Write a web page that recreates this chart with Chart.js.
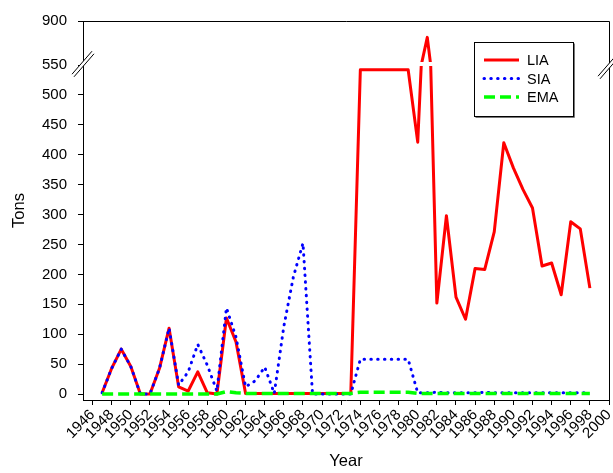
<!DOCTYPE html>
<html>
<head>
<meta charset="utf-8">
<script src="https://cdn.jsdelivr.net/npm/chart.js@4.4.1/dist/chart.umd.min.js"></script>
<style>
  html, body { margin: 0; padding: 0; background: #fff; }
  #wrap { width: 613px; height: 473px; }
</style>
</head>
<body>
<div id="wrap"><canvas id="chart"></canvas></div>
<script>
const years = [
  1947, 1948, 1949, 1950, 1951, 1952, 1953, 1954, 1955, 1956, 1957, 1958, 1959,
  1960, 1961, 1962, 1963, 1964, 1965, 1966, 1967, 1968, 1969,
  1970, 1971, 1972, 1973, 1974, 1975, 1976, 1977, 1978, 1979,
  1980, 1981, 1982, 1983, 1984, 1985, 1986, 1987, 1988, 1989,
  1990, 1991, 1992, 1993, 1994, 1995, 1996, 1997, 1998
];

const lia = [
  2, 43, 75, 46, 0, 0, 43, 110, 12, 5, 37, 2, 0,
  127, 87, 1, 1, 1, 1, 1, 1, 1, 1,
  1, 1, 1, 1, 542, 542, 542, 542, 542, 542,
  421, 770, 152, 298, 162, 125, 210, 208, 271, 420,
  378, 342, 311, 214, 219, 166, 288, 276, 177
];

const sia = [
  2, 43, 75, 46, 0, 0, 43, 110, 15, 37, 83, 48, 5,
  144, 95, 12, 22, 45, 1, 113, 196, 252, 0,
  0, 0, 0, 0, 58, 58, 58, 58, 58, 58,
  2, 2, 3, 2, 2, 2, 2, 3, 2, 2,
  2, 2, 2, 2, 2, 2, 2, 2, 2
];

const ema = [
  0, 0, 0, 0, 0, 0, 0, 0, 0, 0, 0, 0, 0,
  4, 2, 1, 1, 1, 1, 1, 1, 1, 1,
  1, 1, 1, 1, 3, 3, 3, 3, 3, 3,
  1, 1, 1, 1, 1, 1, 1, 1, 1, 1,
  1, 1, 1, 1, 1, 1, 1, 1, 1
];

const yearTicks = [
  1946, 1948, 1950, 1952, 1954, 1956, 1958, 1960, 1962, 1964, 1966, 1968, 1970,
  1972, 1974, 1976, 1978, 1980, 1982, 1984, 1986, 1988, 1990, 1992, 1994, 1996, 1998, 2000
];
const lowerTicks = [0, 50, 100, 150, 200, 250, 300, 350, 400, 450, 500, 550];
const upperTicks = [900];

const FONT = 'Arial, "Liberation Sans", sans-serif';
const RED = '#ff0000';
const BLUE = '#0000ff';
const GREEN = '#00ff00';

const series = (values) => years.map((year, i) => ({ x: year, y: values[i] }));

// each dataset only paints inside the band of its own y axis (broken axis)
const clipToAxis = {
  id: 'clipToAxis',
  beforeDatasetDraw(chart, args) {
    const scale = chart.scales[args.meta.yAxisID];
    const { left, right } = chart.chartArea;
    const top = scale.top + (args.meta.yAxisID === 'y' ? 1 : 0);
    const bottom = args.meta.yAxisID === 'y2' ? scale.bottom - 3 : scale.bottom;
    const ctx = chart.ctx;
    ctx.save();
    ctx.beginPath();
    ctx.rect(left, top, right - left, bottom - top);
    ctx.clip();
  },
  afterDatasetDraw(chart) {
    chart.ctx.restore();
  }
};

function drawBreak(ctx, cx, cy) {
  const dx = 10, dy = 11.5, ox = 1, oy = 1.3;
  ctx.save();
  ctx.fillStyle = '#fff';
  ctx.beginPath();
  ctx.moveTo(cx - ox - dx, cy - oy + dy);
  ctx.lineTo(cx - ox + dx, cy - oy - dy);
  ctx.lineTo(cx + ox + dx, cy + oy - dy);
  ctx.lineTo(cx + ox - dx, cy + oy + dy);
  ctx.closePath();
  ctx.fill();
  ctx.strokeStyle = '#000';
  ctx.lineWidth = 1;
  ctx.beginPath();
  ctx.moveTo(cx - ox - dx, cy - oy + dy);
  ctx.lineTo(cx - ox + dx, cy - oy - dy);
  ctx.moveTo(cx + ox - dx, cy + oy + dy);
  ctx.lineTo(cx + ox + dx, cy + oy - dy);
  ctx.stroke();
  ctx.restore();
}

const legendItems = [
  { label: 'LIA', color: RED, dash: [], cap: 'butt', width: 3 },
  { label: 'SIA', color: BLUE, dash: [0.5, 6.3], cap: 'round', width: 3 },
  { label: 'EMA', color: GREEN, dash: [11, 5], cap: 'butt', width: 3.5 }
];

const decorations = {
  id: 'decorations',
  afterDraw(chart) {
    const ctx = chart.ctx;
    const { left, right, top, bottom } = chart.chartArea;
    const breakY = chart.scales.y.top;

    // top and right frame
    ctx.save();
    ctx.strokeStyle = '#000';
    ctx.lineWidth = 1;
    ctx.beginPath();
    ctx.moveTo(left, top + 0.5);
    ctx.lineTo(right + 0.5, top + 0.5);
    ctx.lineTo(right + 0.5, bottom);
    ctx.stroke();
    ctx.restore();

    drawBreak(ctx, left, breakY - 1);
    drawBreak(ctx, right, breakY + 1);

    // legend
    const bx = right - 135, by = top + 21, bw = 99, bh = 74;
    ctx.save();
    ctx.fillStyle = '#fff';
    ctx.fillRect(bx, by, bw, bh);
    ctx.strokeStyle = '#000';
    ctx.lineWidth = 1;
    ctx.strokeRect(bx + 0.5, by + 0.5, bw, bh);
    ctx.beginPath();
    ctx.moveTo(bx + 1.5, by + bh + 1.5);
    ctx.lineTo(bx + bw + 1.5, by + bh + 1.5);
    ctx.lineTo(bx + bw + 1.5, by + 1.5);
    ctx.strokeStyle = '#777';
    ctx.stroke();
    legendItems.forEach((item, i) => {
      const ly = by + 18 + i * 18.5;
      ctx.strokeStyle = item.color;
      ctx.lineWidth = item.width;
      ctx.lineCap = item.cap;
      ctx.setLineDash(item.dash);
      ctx.beginPath();
      ctx.moveTo(bx + 10, ly);
      ctx.lineTo(bx + 45, ly);
      ctx.stroke();
      ctx.setLineDash([]);
      ctx.fillStyle = '#000';
      ctx.font = `14.5px ${FONT}`;
      ctx.textAlign = 'left';
      ctx.textBaseline = 'middle';
      ctx.fillText(item.label, bx + 53, ly + 1);
    });
    ctx.restore();

    // y title, centred on the whole plot height
    ctx.save();
    ctx.translate(19, (top + bottom) / 2);
    ctx.rotate(-Math.PI / 2);
    ctx.font = `16.5px ${FONT}`;
    ctx.fillStyle = '#000';
    ctx.textAlign = 'center';
    ctx.textBaseline = 'middle';
    ctx.fillText('Tons', 0, 0);
    ctx.restore();
  }
};

const lineStyle = (color, width, dash, cap) => ({
  borderColor: color,
  backgroundColor: color,
  borderWidth: width,
  borderDash: dash,
  borderCapStyle: cap,
  borderJoinStyle: 'round',
  pointRadius: 0,
  tension: 0,
  fill: false
});

const yAxis = (min, max, weight, tickValues) => ({
  type: 'linear',
  position: 'left',
  stack: 'tons',
  stackWeight: weight,
  min,
  max,
  afterBuildTicks: (scale) => { scale.ticks = tickValues.map((value) => ({ value })); },
  afterFit: (scale) => { scale.width = 83; },
  grid: { drawOnChartArea: false, color: '#000', tickLength: 5, tickWidth: 1 },
  border: { color: '#000', width: 1 },
  ticks: {
    color: '#000',
    padding: 11,
    autoSkip: false,
    font: { size: 15, family: FONT },
    callback: (v) => String(v)
  }
});

new Chart(document.getElementById('chart'), {
  type: 'line',
  data: {
    datasets: [
      { label: 'LIA', data: series(lia), yAxisID: 'y', order: 3, ...lineStyle(RED, 3, [], 'butt') },
      { label: 'SIA', data: series(sia), yAxisID: 'y', order: 2, ...lineStyle(BLUE, 3, [0.5, 6.3], 'round') },
      { label: 'EMA', data: series(ema), yAxisID: 'y', order: 1, ...lineStyle(GREEN, 3.5, [11, 5], 'butt') },
      { label: 'LIA upper', data: series(lia), yAxisID: 'y2', order: 4, ...lineStyle(RED, 3, [], 'butt') }
    ]
  },
  options: {
    responsive: true,
    maintainAspectRatio: false,
    animation: false,
    layout: { padding: { top: 21, right: 4, left: 0, bottom: 0 } },
    plugins: {
      legend: { display: false },
      tooltip: { enabled: false }
    },
    scales: {
      x: {
        type: 'linear',
        min: 1945,
        max: 2000,
        afterBuildTicks: (scale) => { scale.ticks = yearTicks.map((value) => ({ value })); },
        afterFit: (scale) => {
          scale.height = 73;
          scale.paddingLeft = 0;
          scale.paddingRight = 0;
        },
        grid: { drawOnChartArea: false, color: '#000', tickLength: 5, tickWidth: 1 },
        border: { color: '#000', width: 1 },
        ticks: {
          color: '#000',
          autoSkip: false,
          maxRotation: 45,
          minRotation: 45,
          padding: 1,
          font: { size: 15, family: FONT },
          callback: (v) => String(v)
        },
        title: {
          display: true,
          text: 'Year',
          color: '#000',
          font: { size: 16.5, family: FONT },
          padding: { top: 0, bottom: 2 }
        }
      },
      y: yAxis(-10, 550, 335, lowerTicks),
      y2: yAxis(550, 900, 44, upperTicks)
    }
  },
  plugins: [clipToAxis, decorations]
});
</script>
</body>
</html>
